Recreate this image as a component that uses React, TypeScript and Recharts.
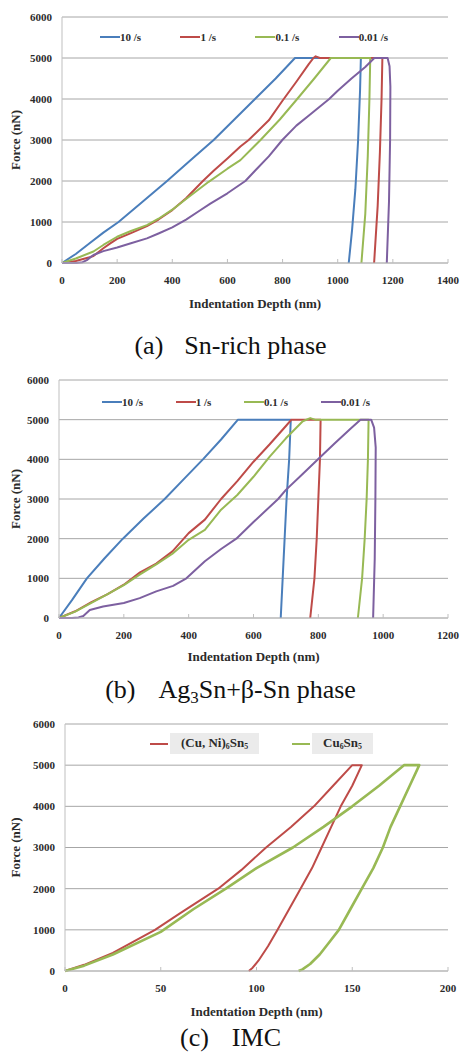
import React from 'react';
import { LineChart, Line, XAxis, YAxis, CartesianGrid, Legend } from 'recharts';

// every point is [indentation depth (nm), force (nN)], loading -> hold -> unloading
type Pt = [number, number];

// (a) Sn-rich phase
const snRich10: Pt[] = [[0, 0], [50, 220], [100, 480], [150, 740], [205, 1000], [290, 1480], [381, 2000], [465, 2500], [550, 3000], [625, 3500], [700, 4000], [775, 4500], [845, 5000], [1084, 5000], [1081, 4200], [1074, 3000], [1064, 1800], [1052, 800], [1040, 0]];
const snRich1: Pt[] = [[0, 0], [50, 50], [100, 140], [114, 170], [150, 360], [175, 480], [200, 590], [250, 730], [308, 900], [350, 1060], [400, 1290], [450, 1580], [511, 2000], [550, 2250], [600, 2550], [647, 2840], [677, 3000], [750, 3480], [799, 3950], [850, 4420], [895, 4850], [912, 5000], [920, 5040], [935, 5000], [1162, 5000], [1159, 4000], [1153, 2700], [1145, 1400], [1132, 0]];
const snRich01: Pt[] = [[0, 0], [50, 110], [114, 280], [150, 440], [200, 640], [250, 780], [308, 925], [350, 1080], [400, 1300], [450, 1560], [532, 1980], [600, 2300], [647, 2510], [720, 3000], [790, 3500], [853, 4000], [915, 4500], [975, 5000], [1118, 5000], [1115, 4000], [1109, 2600], [1100, 1200], [1086, 0]];
const snRich001: Pt[] = [[0, 0], [53, 0], [75, 20], [90, 70], [114, 195], [150, 290], [200, 380], [250, 480], [308, 600], [350, 720], [400, 870], [450, 1060], [500, 1280], [538, 1450], [600, 1700], [665, 2000], [700, 2250], [750, 2600], [799, 3000], [850, 3350], [900, 3620], [969, 4000], [1000, 4200], [1050, 4500], [1100, 4780], [1133, 5000], [1181, 5000], [1188, 4800], [1191, 4300], [1190, 3000], [1186, 1500], [1178, 0]];

// (b) Ag3Sn + beta-Sn phase
const agSn10: Pt[] = [[0, 0], [40, 450], [86, 1000], [140, 1500], [197, 2000], [260, 2500], [326, 3000], [385, 3500], [444, 4000], [500, 4500], [552, 5000], [715, 5000], [710, 4000], [702, 3000], [696, 2000], [690, 1000], [684, 0]];
const agSn1: Pt[] = [[0, 0], [50, 170], [100, 400], [150, 600], [200, 840], [250, 1150], [300, 1370], [350, 1680], [400, 2140], [450, 2480], [500, 3000], [550, 3450], [600, 3940], [650, 4380], [700, 4840], [717, 5000], [807, 5000], [805, 4000], [800, 3000], [795, 2000], [788, 1000], [775, 0]];
const agSn01: Pt[] = [[0, 0], [50, 160], [100, 380], [150, 600], [200, 830], [250, 1100], [300, 1350], [350, 1620], [400, 1970], [450, 2220], [500, 2730], [550, 3100], [600, 3560], [650, 4070], [700, 4530], [752, 4960], [775, 5040], [790, 5000], [955, 5000], [953, 4000], [949, 3000], [943, 2000], [935, 1000], [922, 0]];
const agSn001: Pt[] = [[0, 0], [40, 0], [60, 15], [75, 50], [95, 200], [136, 290], [200, 380], [249, 500], [300, 670], [352, 810], [393, 1000], [450, 1430], [500, 1740], [547, 2000], [600, 2420], [676, 3000], [700, 3230], [750, 3620], [799, 4000], [850, 4400], [900, 4780], [930, 5000], [963, 5000], [972, 4800], [977, 4300], [976, 3000], [974, 1500], [969, 0]];

// (c) IMC
const cuNiSn: Pt[] = [[0, 0], [10, 150], [25, 440], [47, 1000], [60, 1400], [80, 2000], [92, 2450], [105, 3000], [118, 3500], [130, 4000], [140, 4500], [150, 5000], [155, 5000], [150, 4500], [144, 4000], [139, 3500], [134, 3000], [129, 2500], [123, 2000], [117, 1500], [111, 1000], [106, 600], [101, 250], [98, 80], [96, 0]];
const cuSn: Pt[] = [[0, 0], [10, 130], [25, 400], [50, 950], [67, 1500], [84, 2000], [100, 2500], [119, 3000], [135, 3500], [150, 4000], [164, 4500], [177, 5000], [185, 5000], [180, 4500], [175, 4000], [170, 3500], [166, 3000], [161, 2500], [155, 2000], [149, 1500], [143, 1000], [138, 700], [133, 400], [128, 170], [124, 40], [122, 0]];

const rateNames = ['10 /s', '1 /s', '0.1 /s', '0.01 /s'];
const forceTicks = [0, 1000, 2000, 3000, 4000, 5000, 6000];
const depthTicksA = [0, 200, 400, 600, 800, 1000, 1200, 1400];
const depthTicksB = [0, 200, 400, 600, 800, 1000, 1200];
const depthTicksC = [0, 50, 100, 150, 200];

const rateColors = ['#4a7ebb', '#be4b48', '#98b954', '#7d60a0'];
const SERIF = "'Liberation Serif', 'Times New Roman', serif";
const INK = '#2b2b2b';
const FRAME = '#bfbfbf';

const toRows = (pts: Pt[]) => pts.map(([depth, force]) => ({ depth, force }));

const tickStyle = { fontFamily: SERIF, fontSize: 11, fontWeight: 700, fill: INK, style: { fontFamily: SERIF } };

const YTitle = ({ viewBox }: any) => {
  const cx = 15;
  const cy = viewBox.y + viewBox.height / 2;
  return (
    <text x={cx} y={cy} transform={`rotate(-90 ${cx} ${cy})`} textAnchor="middle" dominantBaseline="central"
      style={{ fontFamily: SERIF }} fontSize={13} fontWeight={700} fill={INK}>
      Force (nN)
    </text>
  );
};

interface Series { name: string; color: string; width: number; pts: Pt[] }

interface PanelProps {
  top: number;
  height: number;
  marginTop: number;
  yWidth: number;
  xAxisHeight: number;
  xTicks: number[];
  series: Series[];
  legend: React.ReactNode;
  legendStyle: React.CSSProperties;
}

function Panel(p: PanelProps) {
  return (
    <div style={{ position: 'absolute', left: 0, top: p.top }}>
      <LineChart width={461} height={p.height} margin={{ top: p.marginTop, right: 13, left: 0, bottom: 0 }}>
        <CartesianGrid vertical={false} stroke="#a6a6a6" />
        <XAxis
          type="number"
          dataKey="depth"
          domain={[p.xTicks[0], p.xTicks[p.xTicks.length - 1]]}
          ticks={p.xTicks}
          interval={0}
          height={p.xAxisHeight}
          tickSize={-4}
          tickMargin={17}
          stroke={FRAME}
          tick={tickStyle}
          label={{ value: 'Indentation Depth (nm)', position: 'insideBottom', offset: 4, fontSize: 13, fontWeight: 700, fill: INK, style: { fontFamily: SERIF } }}
        />
        <YAxis
          type="number"
          domain={[0, 6000]}
          ticks={forceTicks}
          interval={0}
          width={p.yWidth}
          tickLine={false}
          tickSize={0}
          tickMargin={10}
          stroke={FRAME}
          tick={tickStyle}
          label={YTitle}
        />
        <YAxis yAxisId="frame" orientation="right" width={0} domain={[0, 1]} tick={false} tickLine={false} stroke={FRAME} />
        <Legend layout="horizontal" align="center" verticalAlign="middle" wrapperStyle={p.legendStyle} content={() => p.legend} />
        {p.series.map((s) => (
          <Line
            key={s.name}
            name={s.name}
            data={toRows(s.pts)}
            dataKey="force"
            type="linear"
            stroke={s.color}
            strokeWidth={s.width}
            strokeLinejoin="round"
            dot={false}
            activeDot={false}
            isAnimationActive={false}
          />
        ))}
      </LineChart>
    </div>
  );
}

const rateLegend = (
  <div style={{ display: 'flex', justifyContent: 'space-between', fontFamily: SERIF, fontWeight: 700, fontSize: 11, color: INK, lineHeight: '14px' }}>
    {rateNames.map((n, i) => (
      <div key={n} style={{ display: 'flex', alignItems: 'center', whiteSpace: 'nowrap' }}>
        <span style={{ display: 'inline-block', width: 20, height: 2, background: rateColors[i] }} />
        {n}
      </div>
    ))}
  </div>
);

const subStyle: React.CSSProperties = { fontSize: '0.6em', verticalAlign: 'baseline', position: 'relative', top: '0.3em' };

const imcItem = (color: string, label: React.ReactNode) => (
  <div style={{ display: 'flex', alignItems: 'center' }}>
    <span style={{ display: 'inline-block', width: 18, height: 2, background: color, marginRight: 2 }} />
    <span style={{ background: '#ebebeb', padding: '0 11px', lineHeight: '19px', whiteSpace: 'nowrap' }}>{label}</span>
  </div>
);

const imcLegend = (
  <div style={{ display: 'flex', gap: 33, fontFamily: SERIF, fontWeight: 700, fontSize: 13, color: INK }}>
    {imcItem(rateColors[1], <>(Cu, Ni)<span style={subStyle}>6</span>Sn<span style={subStyle}>5</span></>)}
    {imcItem(rateColors[2], <>Cu<span style={subStyle}>6</span>Sn<span style={subStyle}>5</span></>)}
  </div>
);

const rateSeries = (sets: Pt[][]): Series[] =>
  sets.map((pts, i) => ({ name: rateNames[i], color: rateColors[i], width: 2, pts }));

const captionStyle = (top: number): React.CSSProperties => ({
  position: 'absolute',
  top,
  left: 0,
  width: 461,
  textAlign: 'center',
  fontFamily: SERIF,
  fontSize: 26,
  lineHeight: '26px',
  color: '#111',
  whiteSpace: 'nowrap',
});

export default function App() {
  return (
    <div style={{ position: 'absolute', top: 0, left: 0, width: 461, height: 1052, background: '#fff', overflow: 'hidden' }}>
      <Panel
        top={0}
        height={312}
        marginTop={17}
        yWidth={62}
        xAxisHeight={49}
        xTicks={depthTicksA}
        series={rateSeries([snRich10, snRich1, snRich01, snRich001])}
        legend={rateLegend}
        legendStyle={{ top: 30, left: 100, width: 288, height: 14 }}
      />
      <div style={captionStyle(333)}>
        <span>(a)</span><span style={{ marginLeft: 21 }}>Sn-rich phase</span>
      </div>

      <Panel
        top={330}
        height={335}
        marginTop={50}
        yWidth={59}
        xAxisHeight={47}
        xTicks={depthTicksB}
        series={rateSeries([agSn10, agSn1, agSn01, agSn001])}
        legend={rateLegend}
        legendStyle={{ top: 65, left: 102, width: 268, height: 14 }}
      />
      <div style={captionStyle(677)}>
        <span>(b)</span>
        <span style={{ marginLeft: 23 }}>Ag<span style={{ fontSize: '0.65em', position: 'relative', top: '0.3em' }}>3</span>Sn+β-Sn phase</span>
      </div>

      <Panel
        top={690}
        height={330}
        marginTop={34}
        yWidth={65}
        xAxisHeight={49}
        xTicks={depthTicksC}
        series={[
          { name: '(Cu, Ni)6Sn5', color: rateColors[1], width: 2, pts: cuNiSn },
          { name: 'Cu6Sn5', color: rateColors[2], width: 2.6, pts: cuSn },
        ]}
        legend={imcLegend}
        legendStyle={{ top: 43, left: 150, height: 19, width: 'auto' }}
      />
      <div style={captionStyle(1025)}>
        <span>(c)</span><span style={{ marginLeft: 23 }}>IMC</span>
      </div>
    </div>
  );
}
